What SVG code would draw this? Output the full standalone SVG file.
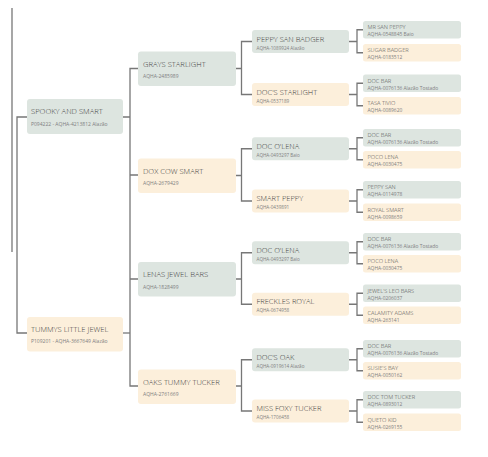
<svg xmlns="http://www.w3.org/2000/svg" width="488" height="457" viewBox="0 0 488 457">
<style>
.s{fill:#dde5e0}
.d{fill:#fcefdb}
text{font-family:"Open Sans","Liberation Sans",sans-serif}
.t1,.t3,.t4{font-weight:300;fill:#3e3e3e}
.u1,.u3,.u4{font-weight:400;fill:#808080}
.t1{font-size:7.6px}
.u1{font-size:5px}
.t3{font-size:7.5px}
.u3{font-size:4.6px}
.t4{font-size:5.7px;fill:#4a4a4a}
.u4{font-size:4.9px}
.c{fill:none;stroke:#777;stroke-width:1.3}
</style>
<rect width="488" height="457" fill="#fff"/>
<g id="connectors" class="c">
<path d="M12 8V252"/>
<path d="M27 117H17V333H27"/>
<path d="M123 117H130M138 68.5H130V386H138"/>
<path d="M130 175H138M130 279H138"/>
<path d="M123 333H130"/>
<path d="M236 68.5H241.5M252 41.5H241.5V94.5H252"/>
<path d="M236 175.5H241.5M252 148.75H241.5V201H252"/>
<path d="M236 279H241.5M252 252.75H241.5V304.25H252"/>
<path d="M236 386H241.5M252 359.75H241.5V411H252"/>
<path d="M349 41.5H357M363 29.75H357V52.75H363"/>
<path d="M349 94.5H357M363 83.25H357V105.75H363"/>
<path d="M349 148.75H357M363 137.75H357V159.75H363"/>
<path d="M349 201H357M363 189.75H357V212.25H363"/>
<path d="M349 252.75H357M363 241.75H357V263.75H363"/>
<path d="M349 304.25H357M363 293.25H357V315.25H363"/>
<path d="M349 359.75H357M363 348.75H357V370.75H363"/>
<path d="M349 411H357M363 399.75H357V422.25H363"/>
</g>
<g id="n-spooky"><rect class="s" x="27" y="99" width="96" height="35" rx="3"/><text class="t1" x="31" y="113.5">SPOOKY AND SMART</text><text class="u1" x="31" y="125.5">P094222 - AQHA-4213812 Alazão</text></g>
<g id="n-tummys"><rect class="d" x="27" y="317" width="96" height="34.5" rx="3"/><text class="t1" x="31" y="331.5">TUMMYS LITTLE JEWEL</text><text class="u1" x="31" y="343">P109201 - AQHA-3667649 Alazão</text></g>

<g id="n-grays"><rect class="s" x="138" y="51.5" width="98" height="34.5" rx="3"/><text class="t1" x="143" y="66.5">GRAYS STARLIGHT</text><text class="u1" x="143" y="78">AQHA-2485989</text></g>
<g id="n-dox"><rect class="d" x="138" y="158.5" width="98" height="34.5" rx="3"/><text class="t1" x="143" y="173.5">DOX COW SMART</text><text class="u1" x="143" y="185">AQHA-2679429</text></g>
<g id="n-lenas"><rect class="s" x="138" y="262" width="98" height="34.5" rx="3"/><text class="t1" x="143" y="277">LENAS JEWEL BARS</text><text class="u1" x="143" y="288.5">AQHA-1828499</text></g>
<g id="n-oaks"><rect class="d" x="138" y="369.5" width="98" height="34.5" rx="3"/><text class="t1" x="143" y="384.5">OAKS TUMMY TUCKER</text><text class="u1" x="143" y="396">AQHA-2761669</text></g>

<g id="n-peppysanbadger"><rect class="s" x="252" y="30" width="97" height="23" rx="3"/><text class="t3" x="256.5" y="41.5">PEPPY SAN BADGER</text><text class="u3" x="256.5" y="49.5">AQHA-1089924 Alazão</text></g>
<g id="n-docsstarlight"><rect class="d" x="252" y="83" width="97" height="23" rx="3"/><text class="t3" x="256.5" y="94.5">DOC'S STARLIGHT</text><text class="u3" x="256.5" y="102.5">AQHA-0537189</text></g>
<g id="n-docolena1"><rect class="s" x="252" y="137.25" width="97" height="23" rx="3"/><text class="t3" x="256.5" y="148.75">DOC O'LENA</text><text class="u3" x="256.5" y="156.75">AQHA-0493297 Baio</text></g>
<g id="n-smartpeppy"><rect class="d" x="252" y="189.5" width="97" height="23" rx="3"/><text class="t3" x="256.5" y="201">SMART PEPPY</text><text class="u3" x="256.5" y="209">AQHA-0439891</text></g>
<g id="n-docolena2"><rect class="s" x="252" y="241.25" width="97" height="23" rx="3"/><text class="t3" x="256.5" y="252.75">DOC O'LENA</text><text class="u3" x="256.5" y="260.75">AQHA-0493297 Baio</text></g>
<g id="n-frecklesroyal"><rect class="d" x="252" y="292.75" width="97" height="23" rx="3"/><text class="t3" x="256.5" y="304.25">FRECKLES ROYAL</text><text class="u3" x="256.5" y="312.25">AQHA-0674958</text></g>
<g id="n-docsoak"><rect class="s" x="252" y="348.25" width="97" height="23" rx="3"/><text class="t3" x="256.5" y="359.75">DOC'S OAK</text><text class="u3" x="256.5" y="367.75">AQHA-0919614 Alazão</text></g>
<g id="n-missfoxy"><rect class="d" x="252" y="399.5" width="97" height="23" rx="3"/><text class="t3" x="256.5" y="411">MISS FOXY TUCKER</text><text class="u3" x="256.5" y="419">AQHA-1706458</text></g>

<g id="n-mrsanpeppy"><rect class="s" x="363" y="21" width="98" height="17.5" rx="2.5"/><text class="t4" x="367.5" y="29">MR SAN PEPPY</text><text class="u4" x="367.5" y="36">AQHA-0548845 Baio</text></g>
<g id="n-sugarbadger"><rect class="d" x="363" y="44" width="98" height="17.5" rx="2.5"/><text class="t4" x="367.5" y="52">SUGAR BADGER</text><text class="u4" x="367.5" y="59">AQHA-0183512</text></g>
<g id="n-docbar1"><rect class="s" x="363" y="74.5" width="98" height="17.5" rx="2.5"/><text class="t4" x="367.5" y="82.5">DOC BAR</text><text class="u4" x="367.5" y="89.5">AQHA-0076136 Alazão Tostado</text></g>
<g id="n-tasativio"><rect class="d" x="363" y="97" width="98" height="17.5" rx="2.5"/><text class="t4" x="367.5" y="105">TASA TIVIO</text><text class="u4" x="367.5" y="112">AQHA-0089620</text></g>
<g id="n-docbar2"><rect class="s" x="363" y="129" width="98" height="17.5" rx="2.5"/><text class="t4" x="367.5" y="137">DOC BAR</text><text class="u4" x="367.5" y="144">AQHA-0076136 Alazão Tostado</text></g>
<g id="n-pocolena1"><rect class="d" x="363" y="151" width="98" height="17.5" rx="2.5"/><text class="t4" x="367.5" y="159">POCO LENA</text><text class="u4" x="367.5" y="166">AQHA-0030475</text></g>
<g id="n-peppysan"><rect class="s" x="363" y="181" width="98" height="17.5" rx="2.5"/><text class="t4" x="367.5" y="189">PEPPY SAN</text><text class="u4" x="367.5" y="196">AQHA-0114978</text></g>
<g id="n-royalsmart"><rect class="d" x="363" y="203.5" width="98" height="17.5" rx="2.5"/><text class="t4" x="367.5" y="211.5">ROYAL SMART</text><text class="u4" x="367.5" y="218.5">AQHA-0098659</text></g>
<g id="n-docbar3"><rect class="s" x="363" y="233" width="98" height="17.5" rx="2.5"/><text class="t4" x="367.5" y="241">DOC BAR</text><text class="u4" x="367.5" y="248">AQHA-0076136 Alazão Tostado</text></g>
<g id="n-pocolena2"><rect class="d" x="363" y="255" width="98" height="17.5" rx="2.5"/><text class="t4" x="367.5" y="263">POCO LENA</text><text class="u4" x="367.5" y="270">AQHA-0030475</text></g>
<g id="n-jewelsleobars"><rect class="s" x="363" y="284.5" width="98" height="17.5" rx="2.5"/><text class="t4" x="367.5" y="292.5">JEWEL'S LEO BARS</text><text class="u4" x="367.5" y="299.5">AQHA-0206037</text></g>
<g id="n-calamity"><rect class="d" x="363" y="306.5" width="98" height="17.5" rx="2.5"/><text class="t4" x="367.5" y="314.5">CALAMITY ADAMS</text><text class="u4" x="367.5" y="321.5">AQHA-263141</text></g>
<g id="n-docbar4"><rect class="s" x="363" y="340" width="98" height="17.5" rx="2.5"/><text class="t4" x="367.5" y="348">DOC BAR</text><text class="u4" x="367.5" y="355">AQHA-0076136 Alazão Tostado</text></g>
<g id="n-susiesbay"><rect class="d" x="363" y="362" width="98" height="17.5" rx="2.5"/><text class="t4" x="367.5" y="370">SUSIE'S BAY</text><text class="u4" x="367.5" y="377">AQHA-0050162</text></g>
<g id="n-doctomtucker"><rect class="s" x="363" y="391" width="98" height="17.5" rx="2.5"/><text class="t4" x="367.5" y="399">DOC TOM TUCKER</text><text class="u4" x="367.5" y="406">AQHA-0893012</text></g>
<g id="n-quetokid"><rect class="d" x="363" y="413.5" width="98" height="17.5" rx="2.5"/><text class="t4" x="367.5" y="421.5">QUETO KID</text><text class="u4" x="367.5" y="428.5">AQHA-0269155</text></g>
</svg>
